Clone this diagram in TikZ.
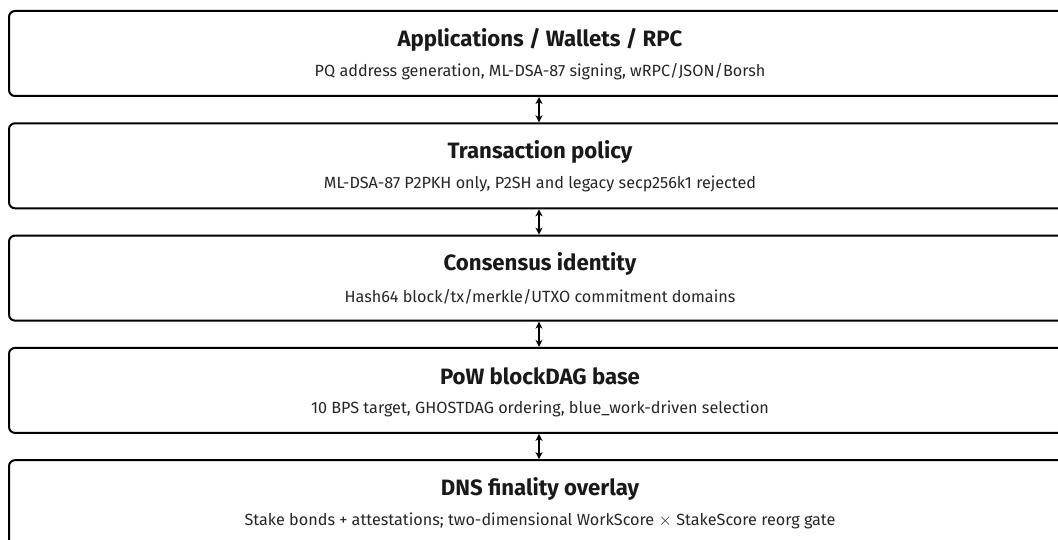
\documentclass[tikz,border=0pt]{standalone}
\usepackage{fontspec}
\setmainfont{Fira Sans}
\usetikzlibrary{arrows.meta}
\tikzset{
  layer/.style={draw=black, line width=2pt, rounded corners=6pt, fill=white,
    minimum width=1064pt, minimum height=85pt, anchor=north west, inner sep=0pt},
  ttl/.style={font=\fontsize{22.2}{26}\selectfont\bfseries, text=black!90},
  sub/.style={font=\fontsize{16.2}{19}\selectfont, text=black!85},
  link/.style={line width=1.2pt, {Stealth[length=7pt,width=7pt,inset=2pt]}-{Stealth[length=7pt,width=7pt,inset=2pt]}}
}
\begin{document}
\begin{tikzpicture}[x=1pt,y=-1pt]
\useasboundingbox (0,0) rectangle (1058,540);
\clip (0,0) rectangle (1058,540);
\foreach \i/\t/\s in {
  1/{Applications / Wallets / RPC}/{PQ address generation, ML-DSA-87 signing, wRPC/JSON/Borsh},
  2/{Transaction policy}/{ML-DSA-87 P2PKH only, P2SH and legacy secp256k1 rejected},
  3/{Consensus identity}/{Hash64 block/tx/merkle/UTXO commitment domains},
  4/{PoW blockDAG base}/{10 BPS target, GHOSTDAG ordering, blue\_work-driven selection},
  5/{DNS finality overlay}/{Stake bonds + attestations; two-dimensional WorkScore $\times$ StakeScore reorg gate}}
{
  \node[layer] (L\i) at (8, {10+112.3*(\i-1)}) {};
  \node[ttl] (T\i) at (540, {39.5+112.3*(\i-1)}) {\t};
  \node[sub] (S\i) at (540, {72+112.3*(\i-1)}) {\s};
}
\foreach \a/\b in {1/2,2/3,3/4,4/5}
  \draw[link] (L\a.south -| 539,0) -- (L\b.north -| 539,0);
\end{tikzpicture}
\end{document}
